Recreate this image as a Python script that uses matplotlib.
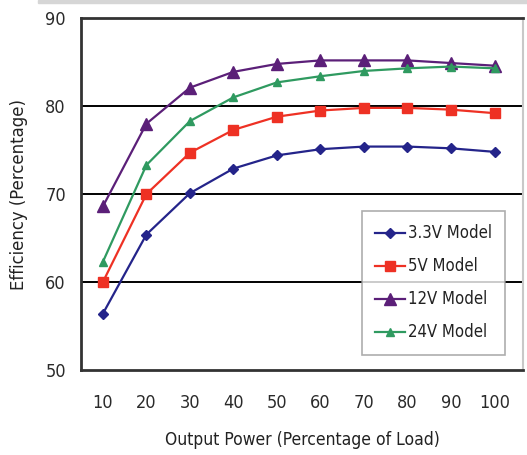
import matplotlib.pyplot as plt
import matplotlib.font_manager as fm
import numpy as np

# pick a condensed face if one is installed, the original uses a narrow sans
family, stretch = 'Liberation Sans', 'normal'
for f in fm.fontManager.ttflist:
    if f.name == 'Liberation Sans Narrow':
        family, stretch = f.name, 'normal'
        break
else:
    for f in fm.fontManager.ttflist:
        if f.name == 'DejaVu Sans' and 'Condensed' in f.fname and 'Bold' not in f.fname \
                and 'Oblique' not in f.fname:
            family, stretch = 'DejaVu Sans', 'condensed'
            break
plt.rcParams['font.family'] = [family, 'DejaVu Sans']
plt.rcParams['font.stretch'] = stretch

# Output power (% of load)
load = [10, 20, 30, 40, 50, 60, 70, 80, 90, 100]
eff_33v = [56.4, 65.4, 70.1, 72.9, 74.4, 75.1, 75.4, 75.4, 75.2, 74.8]
eff_5v = [60.0, 70.0, 74.7, 77.3, 78.8, 79.5, 79.8, 79.8, 79.6, 79.2]
eff_12v = [68.6, 78.0, 82.1, 83.9, 84.8, 85.2, 85.2, 85.2, 84.9, 84.6]
eff_24v = [62.3, 73.3, 78.3, 81.0, 82.7, 83.4, 84.0, 84.3, 84.5, 84.3]
y_ticks = [50, 60, 70, 80, 90]

fig = plt.figure(figsize=(5.27, 4.55), dpi=100)
# grey strip at the top of the panel
fig.patches.append(plt.Rectangle((0.072, 0.993), 0.93, 0.007, transform=fig.transFigure,
                                 color='#d6d6d6', zorder=0))
ax = fig.add_axes([0.154, 0.187, 0.838, 0.773])

ax.plot(load, eff_33v, color='#24248a', marker='D', markersize=5, lw=1.6, label='3.3V Model')
ax.plot(load, eff_5v, color='#ee3124', marker='s', markersize=7, lw=1.6, label='5V Model')
ax.plot(load, eff_12v, color='#5b1f78', marker='^', markersize=8, lw=1.6, label='12V Model')
ax.plot(load, eff_24v, color='#2f9a60', marker='^', markersize=6, lw=1.6, label='24V Model')

for v in [60, 70, 80]:
    ax.axhline(v, color='black', lw=1.4, zorder=0)

ax.set_xlim(5, 106.5)
ax.set_ylim(50, 90)
ax.set_xticks(load)
ax.set_yticks(y_ticks)
ax.tick_params(length=0, labelsize=13, colors='#2a2a2a')
ax.tick_params(axis='x', pad=17)
ax.tick_params(axis='y', pad=11)

for s in ['left', 'bottom', 'top']:
    ax.spines[s].set_color('#333333')
    ax.spines[s].set_linewidth(2)
ax.spines['right'].set_color('#c8c8c8')
ax.spines['right'].set_linewidth(1.5)

ax.set_xlabel('Output Power (Percentage of Load)', fontsize=12.5, color='#222222', labelpad=14)
ax.set_ylabel('Efficiency (Percentage)', fontsize=13.2, color='#222222', labelpad=12)

leg = ax.legend(loc='lower right', bbox_to_anchor=(0.96, 0.043), fontsize=12,
                frameon=True, fancybox=False, handlelength=1.8, handletextpad=0.15,
                labelspacing=0.9, borderpad=0.8, borderaxespad=0)
leg.get_frame().set_edgecolor('#999999')
leg.get_frame().set_linewidth(1.2)
for t in leg.get_texts():
    t.set_color('#222222')

fig.savefig('out.png', dpi=100)
